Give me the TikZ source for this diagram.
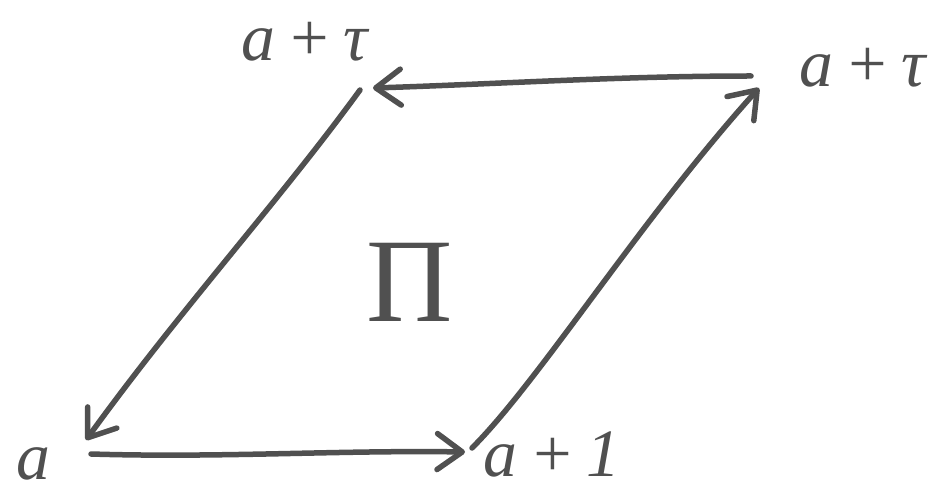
\documentclass[tikz,border=0pt]{standalone}
\usepackage{fontspec}
\setmainfont{Liberation Serif}
\usetikzlibrary{arrows.meta}
\definecolor{ink}{HTML}{505050}
\begin{document}
\begin{tikzpicture}[x=1bp,y=-1bp,
  edge/.style={draw=ink, line width=5.5bp, line cap=round, line join=round,
    -{Straight Barb[length=25bp,width=36bp,round]}},
  lbl/.style={text=ink, inner sep=0pt, font=\fontsize{68}{76}\selectfont\itshape},
  big/.style={text=ink, inner sep=0pt, font=\fontsize{120}{130}\selectfont}]
\useasboundingbox (0,0) rectangle (932,498);
% corner coordinates
\coordinate (blA) at (91,454);
\coordinate (blB) at (86,440);
\coordinate (brA) at (465,452);
\coordinate (brB) at (472,448);
\coordinate (trA) at (759,88);
\coordinate (trB) at (751,76);
\coordinate (tlA) at (373,88);
\coordinate (tlB) at (360,90);
% edges
\draw[edge] (blA) .. controls (220,458) and (340,450) .. (brA);
\draw[edge] (brB) .. controls (540,380) and (640,220) .. (trA);
\draw[edge] (trB) .. controls (620,76) and (500,84) .. (tlA);
\draw[edge] (tlB) .. controls (280,200) and (180,310) .. (blB);
% labels
\node[lbl] (la) at (33,464) {a};
\node[lbl, anchor=base] (lb) at (552,476) {a{\,}+{\,}1};
\node[lbl] (lc) at (305,42) {a{\,}+{\,}τ};
\node[lbl, anchor=east] (ld) at (926,68) {a{\,}+{\,}τ};
\node[big] (pi) at (410,282) {Π};
\end{tikzpicture}
\end{document}
